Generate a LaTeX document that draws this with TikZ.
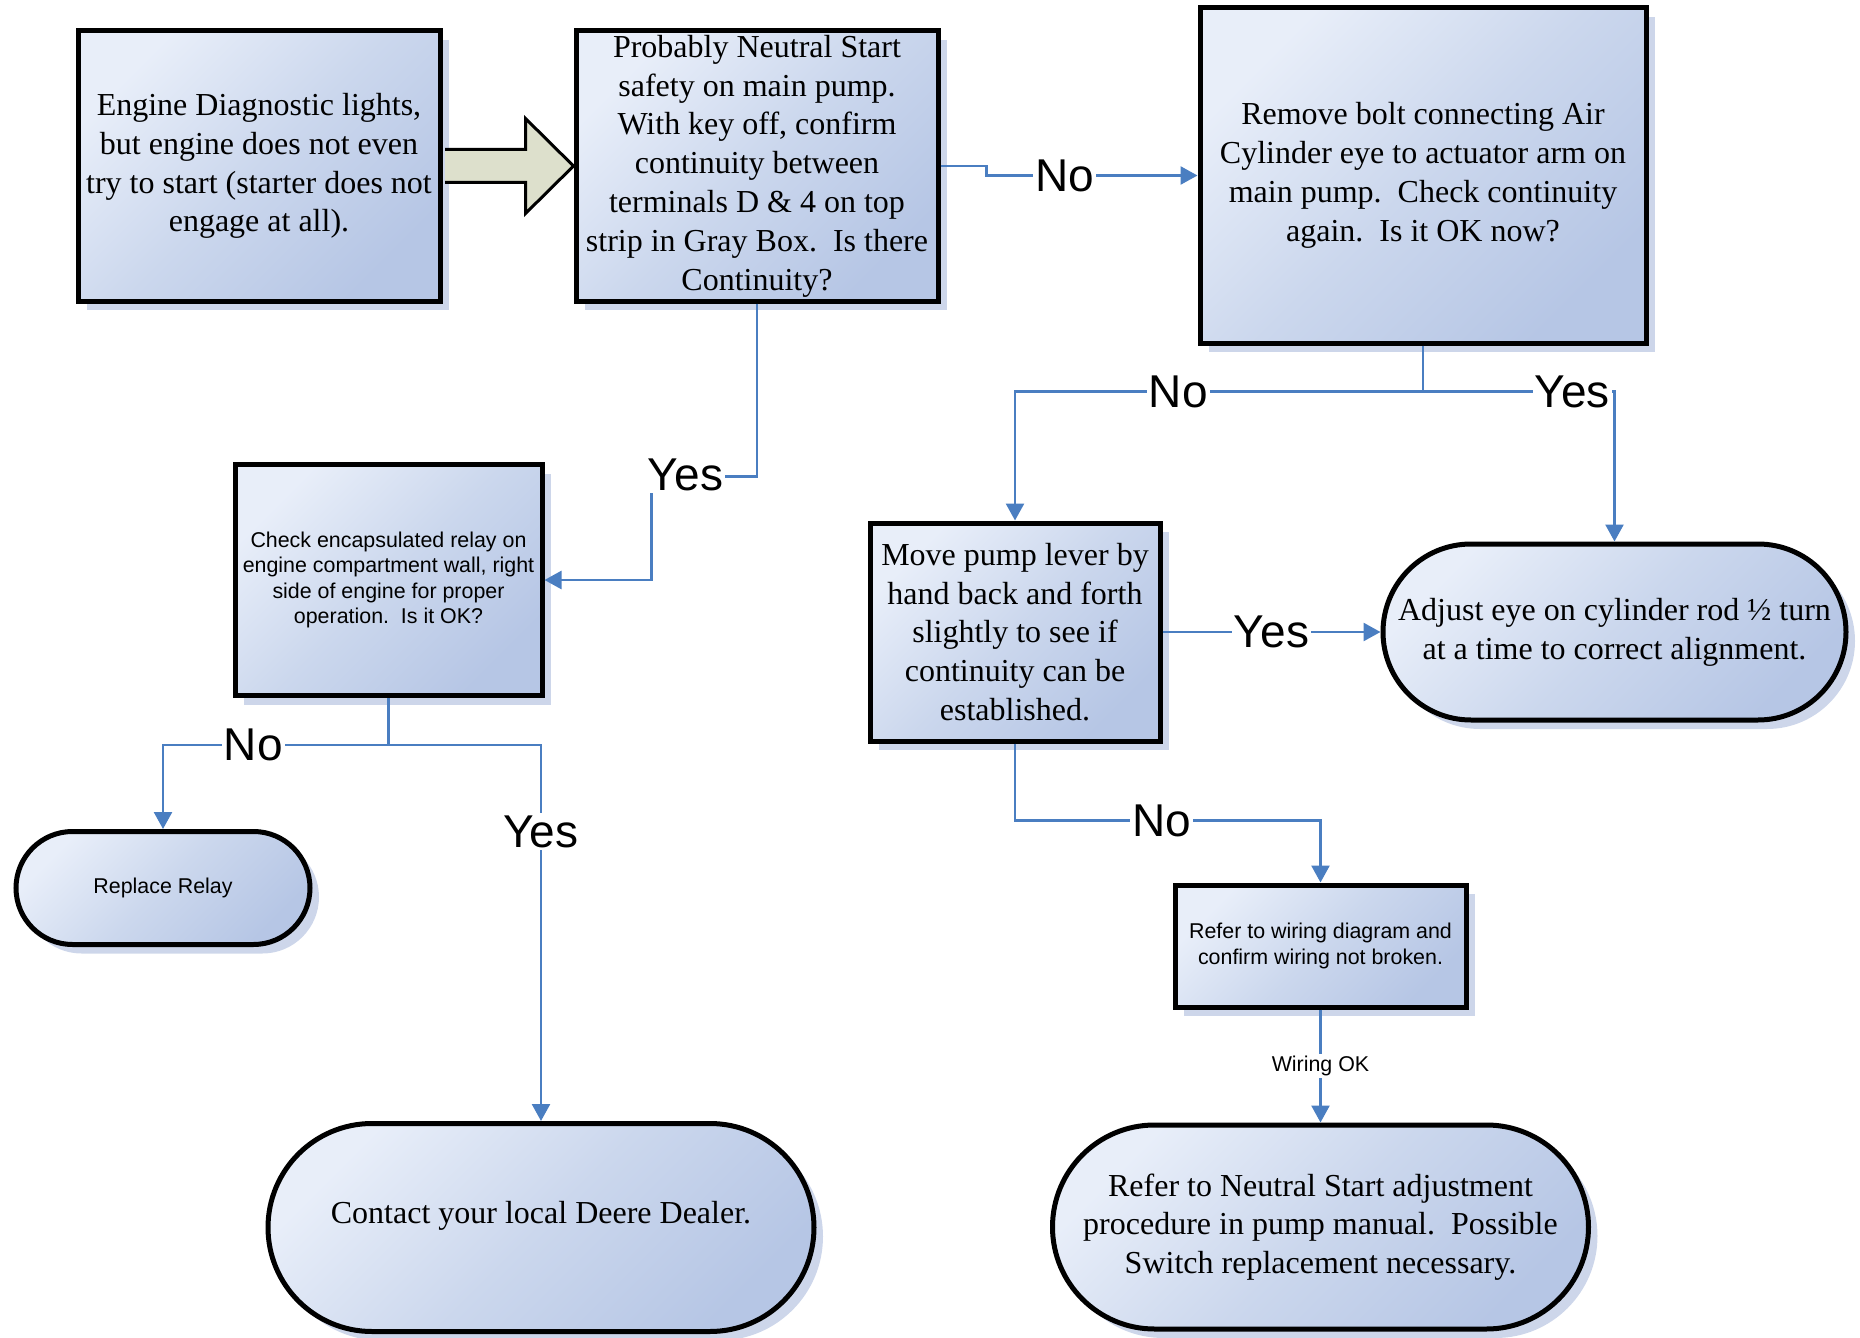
\documentclass[tikz,border=0pt]{standalone}
\usepackage{fontspec}
\setmainfont{Liberation Serif}
\setsansfont{Liberation Sans}
\usepackage{tikz}
\usetikzlibrary{arrows.meta,shapes.misc,shadows,calc}
\usetikzlibrary{positioning}
\definecolor{boxlight}{RGB}{232,238,249}
\definecolor{boxmid}{RGB}{203,215,237}
\definecolor{boxdark}{RGB}{182,198,229}
\definecolor{pilblue}{RGB}{74,126,193}
\definecolor{shadowblue}{RGB}{200,210,232}
\definecolor{arrowfill}{RGB}{221,224,204}
\tikzset{
    state/.style={
           rectangle,
           draw=black, line width=2.5pt,
           top color=boxlight, bottom color=boxdark, middle color=boxmid,
           shading angle=45,
           drop shadow={shadow xshift=4.5pt, shadow yshift=-4.5pt, fill=shadowblue, opacity=0.9},
           inner sep=2pt,
           align=center,
           font=\fontsize{16}{19.4}\selectfont,
           },
    terminal/.style={state, rounded rectangle},
    small/.style={font=\sffamily\fontsize{10.7}{12.6}\selectfont},
    wire/.style={
           draw=pilblue,
           line width=1.3pt,},
    pil/.style={
           wire,
           ->,},
    answer/.style={
           fill=white,
           inner sep=1pt,
           font=\sffamily\fontsize{23}{27}\selectfont},
    bigarrow/.style={
           fill=arrowfill,
           draw=black, line width=1.5pt,
           line join=miter,}
}
\begin{document}
\begin{tikzpicture}[x=0.5pt, y=-0.5pt, >={Triangle[length=8.5pt,width=9pt]}]
\useasboundingbox (0,0) rectangle (1860,1338);
% TOP ROW
% Position of Engine lights (ENGINE)
\node[state,
minimum width = 181pt,
minimum height = 135pt] (ENGINE) at (259,166)
{Engine Diagnostic lights,\\
but engine does not even\\
try to start (starter does not\\
engage at all).};
% Position of Neutral start check (NEUTRAL)
\node[state,
minimum width = 181pt,
minimum height = 135pt,
right of = ENGINE,
node distance = 249pt] (NEUTRAL)
{Probably Neutral Start\\
safety on main pump.\\
With key off, confirm\\
continuity between\\
terminals D \& 4 on top\\
strip in Gray Box.\ \ Is there\\
Continuity?};
% Position of Remove bolt (BOLT)
\node[state,
minimum width = 223pt,
minimum height = 167.5pt,
right of = NEUTRAL,
node distance = 333pt,
yshift = -4.75pt] (BOLT)
{Remove bolt connecting Air\\
Cylinder eye to actuator arm on\\
main pump.\ \ Check continuity\\
again.\ \ Is it OK now?};
% MIDDLE ROW
% Position of Relay check (RELAY)
\node[state, small,
minimum width = 153.5pt,
minimum height = 115.5pt,
below of = ENGINE,
node distance = 207pt,
xshift = 64.75pt] (RELAY)
{Check encapsulated relay on\\
engine compartment wall, right\\
side of engine for proper\\
operation.\ \ Is it OK?};
% Position of Pump lever (LEVER)
\node[state,
minimum width = 145pt,
minimum height = 109pt,
below of = BOLT,
node distance = 228.25pt,
xshift = -204pt] (LEVER)
{Move pump lever by\\
hand back and forth\\
slightly to see if\\
continuity can be\\
established.};
% Position of Adjust eye (ADJUST)
\node[terminal,
minimum width = 235.5pt,
minimum height = 88pt,
right of = LEVER,
node distance = 299.75pt] (ADJUST)
{Adjust eye on cylinder rod ½ turn\\
at a time to correct alignment.};
% BOTTOM ROW
% Position of Replace relay (REPLACE)
\node[terminal, small,
minimum width = 151pt,
minimum height = 56.5pt,
below of = RELAY,
node distance = 154pt,
xshift = -112.75pt] (REPLACE)
{Replace Relay};
% Position of Deere dealer (DEALER)
\node[terminal,
minimum width = 277pt,
minimum height = 104pt,
text depth = 15pt,
below of = RELAY,
node distance = 323.75pt,
xshift = 76.25pt] (DEALER)
{Contact your local Deere Dealer.};
% Position of Wiring check (WIRING)
\node[state, small,
minimum width = 145.5pt,
minimum height = 61pt,
below of = LEVER,
node distance = 157pt,
xshift = 152.75pt] (WIRING)
{Refer to wiring diagram and\\
confirm wiring not broken.};
% Position of Pump manual (MANUAL)
\node[terminal,
minimum width = 272pt,
minimum height = 102pt,
below of = WIRING,
node distance = 140.5pt] (MANUAL)
{Refer to Neutral Start adjustment\\
procedure in pump manual.\ \ Possible\\
Switch replacement necessary.};
% Draw big arrow
\draw[bigarrow] ($(ENGINE.east)+(2.5,-16.5)$) -- ($(NEUTRAL.west)+(-48,-16.5)$)
  -- ($(NEUTRAL.west)+(-48,-47.5)$) -- (NEUTRAL.west)
  -- ($(NEUTRAL.west)+(-48,47.5)$) -- ($(NEUTRAL.west)+(-48,16.5)$)
  -- ($(ENGINE.east)+(2.5,16.5)$);
% Draw lines on graph
\coordinate (YESB) at ($(RELAY.east)+(107,-103.5)$);
\coordinate (SPLITC) at ($(BOLT.south)+(0,46)$);
\coordinate (SPLITD) at ($(RELAY.south)+(0,47)$);
\draw[pil] (NEUTRAL.east) -- ++(46,0) |- node[answer, pos=0.685] {No} (BOLT.west);
\draw[pil] (NEUTRAL.south) |- (YESB) node[answer, xshift=17pt, yshift=1pt] {Yes} |- (RELAY.east);
\draw[wire] (BOLT.south) -- (SPLITC);
\draw[pil] (SPLITC) -| node[answer, pos=0.3] {No} (LEVER.north);
\draw[pil] (SPLITC) -| node[answer, pos=0.39] {Yes} (ADJUST.north);
\draw[pil] (LEVER.east) -- node[answer] {Yes} (ADJUST.west);
\draw[pil] (LEVER.south) -- ++(0,77) -| node[answer, pos=0.24] {No} (WIRING.north);
\draw[pil] (WIRING.south) -- node[answer, small] {Wiring OK} (MANUAL.north);
\draw[wire] (RELAY.south) -- (SPLITD);
\draw[pil] (SPLITD) -| node[answer, pos=0.3] {No} (REPLACE.north);
\draw[pil] (SPLITD) -| node[answer, pos=0.615] {Yes} (DEALER.north);
\end{tikzpicture}
\end{document}
